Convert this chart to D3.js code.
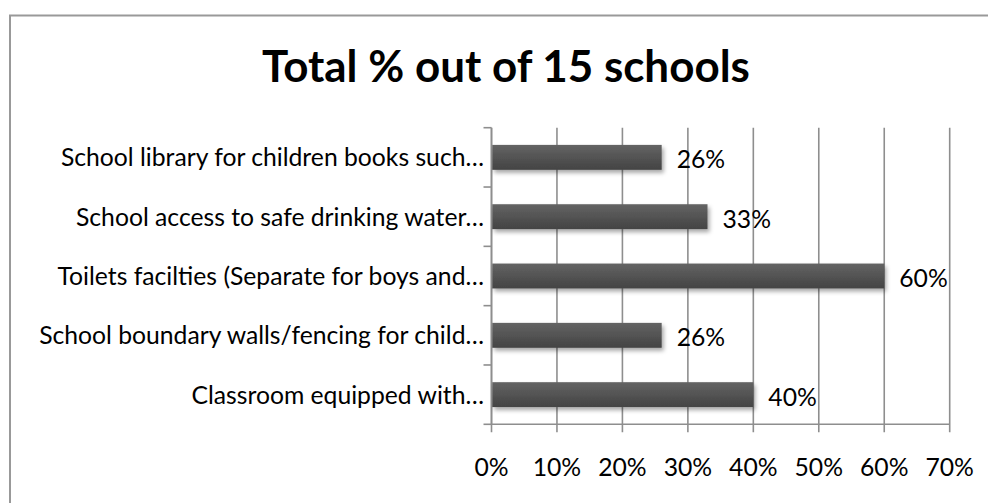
<!DOCTYPE html>
<html>
<head>
<meta charset="utf-8">
<script src="https://cdn.jsdelivr.net/npm/d3@7"></script>
<style>
  html, body { margin: 0; padding: 0; background: #fff; }
  svg { display: block; }
  text { font-family: Lato, "Open Sans", sans-serif; fill: #000; }
</style>
</head>
<body>
<svg id="chart" width="988" height="503"></svg>
<script>
// ---- data ----
const title = "Total % out of 15 schools";
const categories = [
  "School library for children books such\u2026",
  "School access to safe drinking water\u2026",
  "Toilets facilties (Separate for boys and\u2026",
  "School boundary walls/fencing for child\u2026",
  "Classroom equipped with\u2026"
];
const values = [0.26, 0.33, 0.60, 0.26, 0.40];
const valueLabels = ["26%", "33%", "60%", "26%", "40%"];
const xTicks = [0, 0.1, 0.2, 0.3, 0.4, 0.5, 0.6, 0.7];

// ---- layout ----
const svg = d3.select("#chart");
const plot = { left: 491.5, right: 949.7, top: 127.7, bottom: 424.3 };

const x = d3.scaleLinear().domain([0, 0.7]).range([plot.left, plot.right]);
const y = d3.scaleBand().domain(categories).range([plot.top, plot.bottom])
  .paddingInner(0.58).paddingOuter(0.29);

const defs = svg.append("defs");
const grad = defs.append("linearGradient").attr("id", "barGrad")
  .attr("x1", 0).attr("y1", 0).attr("x2", 0).attr("y2", 1);
grad.append("stop").attr("offset", "0%").attr("stop-color", "#646464");
grad.append("stop").attr("offset", "100%").attr("stop-color", "#434343");
const filt = defs.append("filter").attr("id", "shadow")
  .attr("x", "-5%").attr("y", "-30%").attr("width", "115%").attr("height", "180%");
filt.append("feDropShadow").attr("dx", 2).attr("dy", 3).attr("stdDeviation", 2.2)
  .attr("flood-color", "#000").attr("flood-opacity", 0.35);

// outer chart border
svg.append("rect").attr("x", 10).attr("y", 15.5).attr("width", 1000).attr("height", 520)
  .attr("fill", "#fff").attr("stroke", "#999").attr("stroke-width", 2);

// title
const titleText = svg.append("text")
  .attr("x", 506).attr("y", 82)
  .attr("text-anchor", "middle")
  .style("font-weight", "bold")
  .style("font-size", "40px")
  .text(title);
{
  const w = titleText.node().getComputedTextLength();
  titleText.style("font-size", (40 * 488 / w) + "px");
}

// gridlines
const grid = svg.append("g");
grid.selectAll("line").data(xTicks).join("line")
  .attr("x1", d => x(d)).attr("x2", d => x(d))
  .attr("y1", plot.top).attr("y2", plot.bottom + 8)
  .attr("stroke", "#8e8e8e").attr("stroke-width", 1.6);

// y axis line and category separator ticks
const bounds = categories.map(c => y(c) - y.step() * y.paddingInner() / 2);
bounds.push(plot.bottom);
svg.append("line").attr("x1", plot.left).attr("x2", plot.left)
  .attr("y1", plot.top).attr("y2", plot.bottom)
  .attr("stroke", "#8e8e8e").attr("stroke-width", 1.6);
svg.append("g").selectAll("line").data(bounds).join("line")
  .attr("x1", plot.left - 8).attr("x2", plot.left)
  .attr("y1", d => d).attr("y2", d => d)
  .attr("stroke", "#8e8e8e").attr("stroke-width", 1.6);

// x axis line
svg.append("line").attr("x1", plot.left).attr("x2", plot.right)
  .attr("y1", plot.bottom).attr("y2", plot.bottom)
  .attr("stroke", "#8e8e8e").attr("stroke-width", 1.6);

// bars
svg.append("g").selectAll("rect").data(categories).join("rect")
  .attr("x", plot.left + 0.8)
  .attr("y", c => y(c))
  .attr("width", (c, i) => x(values[i]) - plot.left - 0.8)
  .attr("height", y.bandwidth())
  .attr("fill", "url(#barGrad)")
  .attr("filter", "url(#shadow)");

// fit body font size so the longest category label matches the reference width
const probe = svg.append("text").style("font-size", "24px").text(categories[3]);
const fs = 24 * 445 / probe.node().getComputedTextLength();
probe.remove();

// category labels
svg.append("g").selectAll("text").data(categories).join("text")
  .attr("x", plot.left - 7.5)
  .attr("y", c => y(c) + y.bandwidth() / 2)
  .attr("dy", "0.36em")
  .attr("text-anchor", "end")
  .style("font-size", fs + "px")
  .text(c => c);

// value labels
svg.append("g").selectAll("text").data(categories).join("text")
  .attr("x", (c, i) => x(values[i]) + 15)
  .attr("y", c => y(c) + y.bandwidth() / 2 + 2)
  .attr("dy", "0.36em")
  .style("font-size", fs + "px")
  .text((c, i) => valueLabels[i]);

// x tick labels
svg.append("g").selectAll("text").data(xTicks).join("text")
  .attr("x", d => x(d))
  .attr("y", 467)
  .attr("dy", "0.36em")
  .attr("text-anchor", "middle")
  .style("font-size", fs + "px")
  .text(d => d3.format(".0%")(d));
</script>
</body>
</html>
